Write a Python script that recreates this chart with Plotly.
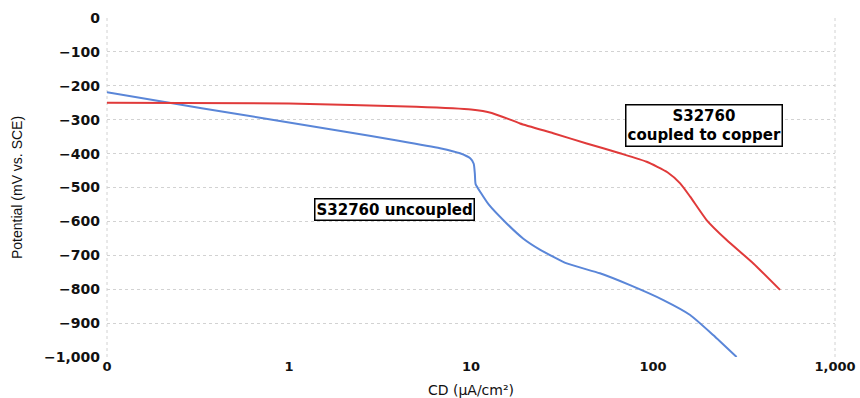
import plotly.graph_objects as go

# Data
blue_x = [0.1, 0.22, 0.5, 1, 2, 4, 6.76, 8.7, 9.9, 10.35, 10.5, 10.6, 11.3, 12.5, 15.7, 19.4, 23.9, 33.6, 51.1, 74.8, 114, 160, 214, 288]
blue_y = [-219, -250, -282, -308, -335, -362, -384, -399, -414, -430, -460, -490, -515, -550, -606, -651, -683, -724, -753, -788, -832, -876, -935, -1000]

red_x = [0.1, 1, 5, 10, 13, 18.6, 28.3, 43.2, 65.8, 92.3, 120, 141, 160, 197, 254, 356, 499]
red_y = [-250, -252, -262, -270, -280, -311, -340, -370, -399, -424, -455, -488, -527, -596, -655, -724, -802]

x_tickvals = [0.1, 1, 10, 100, 1000]
x_ticktext = ["0", "1", "10", "100", "1,000"]
y_tickvals = list(range(-1000, 1, 100))

label_uncoupled = "S32760 uncoupled"
label_coupled = "S32760<br>coupled to copper"
x_title = "CD (μA/cm²)"
y_title = "Potential (mV vs. SCE)"

wide = "DejaVu Sans, Verdana, sans-serif"
narrow = "Liberation Sans, Arial, sans-serif"
grid_col = "#d2d2d2"

fig = go.Figure()
fig.add_trace(go.Scatter(x=blue_x, y=blue_y, mode="lines",
                         line=dict(color="#5a86d8", width=2, shape="spline", smoothing=0.5),
                         showlegend=False, hoverinfo="x+y"))
fig.add_trace(go.Scatter(x=red_x, y=red_y, mode="lines",
                         line=dict(color="#e03a3a", width=2, shape="spline", smoothing=0.5),
                         showlegend=False, hoverinfo="x+y"))

fig.add_annotation(x=0.58, y=-566, text="<b>" + label_uncoupled + "</b>", showarrow=False,
                   font=dict(family=wide, size=15, color="#000"),
                   bordercolor="#000", borderwidth=1.5, borderpad=1, bgcolor="#fff")
fig.add_annotation(x=2.28, y=-318, text="<b>" + label_coupled + "</b>", showarrow=False,
                   font=dict(family=wide, size=15, color="#000"),
                   bordercolor="#000", borderwidth=1.5, borderpad=1, bgcolor="#fff")

# dotted left / right frame lines (as in the reference)
for xp in (0, 1):
    fig.add_shape(type="line", xref="paper", yref="paper", x0=xp, x1=xp, y0=0, y1=1,
                  line=dict(color=grid_col, width=1, dash="dot"), layer="below")

fig.update_layout(
    width=860, height=398,
    margin=dict(l=107, r=25, t=18, b=41),
    paper_bgcolor="#fff", plot_bgcolor="#fff",
    font=dict(family=narrow, color="#111"),
    xaxis=dict(type="log", range=[-1, 3], tickvals=x_tickvals, ticktext=x_ticktext,
               tickfont=dict(size=13, family=wide, weight="bold"), showgrid=False,
               showline=False, ticks="", zeroline=False, automargin=False,
               title=dict(text=x_title, font=dict(size=14, family=wide), standoff=12)),
    yaxis=dict(range=[-1000, 0], tickvals=y_tickvals, tickformat=",",
               tickfont=dict(size=14, family=wide, weight="bold"), showgrid=True,
               gridcolor=grid_col, griddash="dot", gridwidth=1,
               showline=False, ticks="", zeroline=False, ticklabelstandoff=6, automargin=False,
               title=dict(text=y_title, font=dict(size=14, family=narrow), standoff=18)),
)

fig.write_html("out.html",
               config={"displayModeBar": False},
               post_script="document.body.style.margin='0';document.body.style.overflow='hidden';")
